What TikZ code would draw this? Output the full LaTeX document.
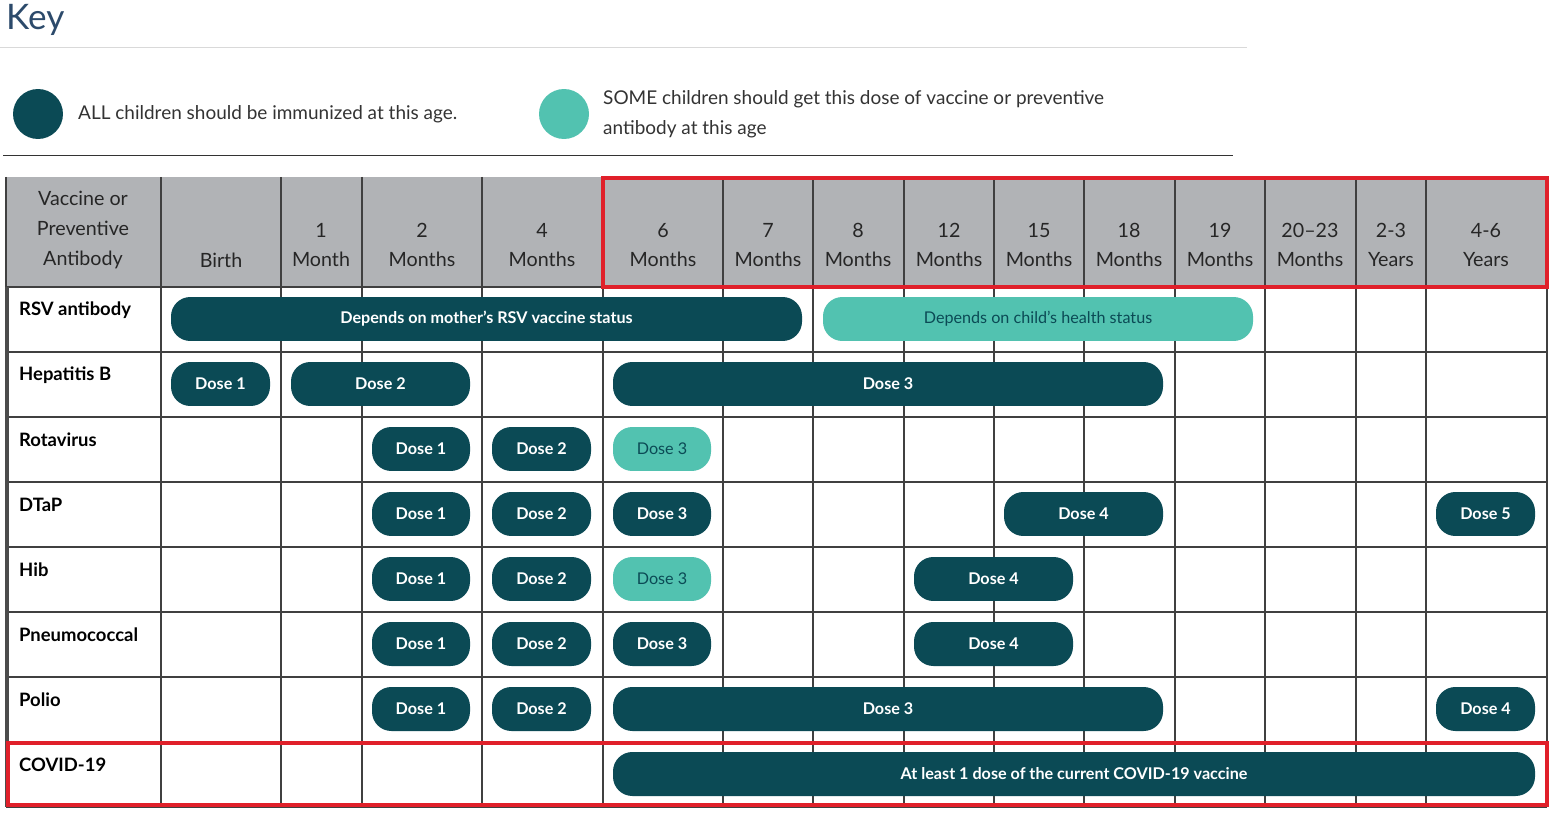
\documentclass[tikz,border=0pt]{standalone}
\usepackage{fontspec}
\setmainfont{Lato}
\definecolor{tealdark}{HTML}{0B4A55}
\definecolor{teallight}{HTML}{52C2B0}
\definecolor{headgray}{HTML}{B1B3B6}
\definecolor{keyblue}{HTML}{2C4A6B}
\definecolor{redbox}{HTML}{E0202A}
\tikzset{
  allpill/.style={fill=tealdark, text=white, font=\fontsize{9.2}{11}\selectfont\bfseries, rounded corners=11pt, inner sep=0pt, minimum height=0.88cm},
  somepill/.style={fill=teallight, text=tealdark, font=\fontsize{9.2}{11}\selectfont, rounded corners=11pt, inner sep=0pt, minimum height=0.88cm},
  headtext/.style={font=\fontsize{11.2}{17}\selectfont, text=black!85, align=center},
  rowtext/.style={font=\fontsize{10.5}{12}\selectfont\bfseries, anchor=west, text=black},
  keytext/.style={font=\fontsize{10.8}{17}\selectfont, text=black!80, anchor=west, align=left},
  gridline/.style={draw=black!75, line width=0.6pt}
}
% pill from x1 to x2 on the row centred at y
\newcommand{\pill}[6]{\node[#5, minimum width={(#3-#2)*0.02cm}] (#1) at ({(#2+#3)/2},#4) {#6};}
\begin{document}
\begin{tikzpicture}[x=0.02cm,y=-0.02cm]
\useasboundingbox (0,0) rectangle (1555,814);
% key
\node[font=\fontsize{20}{22}\selectfont, text=keyblue, anchor=west] (keytitle) at (0,20) {Key};
\draw[black!15] (0,47) -- (1247,47);
\node[circle, fill=tealdark, minimum size=1cm, inner sep=0pt] (keyall) at (38,114) {};
\node[keytext] (keyalltext) at (72,114) {ALL children should be immunized at this age.};
\node[circle, fill=teallight, minimum size=1cm, inner sep=0pt] (keysome) at (564,114) {};
\node[keytext] (keysometext) at (597,114) {SOME children should get this dose of vaccine or preventive\\antibody at this age};
\draw[black!80] (3,155) -- (1233,155);
% header
\fill[headgray] (6,177) rectangle (1547,287);
\foreach \x in {161,281,362,482,603,723,813,904,994,1084,1175,1265,1356,1426}
  \draw[gridline] (\x,177) -- (\x,807);
\foreach \y in {287,352,417,482,547,612,677,742,807}
  \draw[gridline] (6,\y) -- (1547,\y);
\draw[gridline] (6,177) -- (6,807);
\draw[gridline] (1547,287) -- (1547,807);
\draw[black!70, line width=2pt] (7,287) -- (7,807);
\node[headtext] (hvac) at (83,230) {Vaccine or\\Preventive\\Antibody};
\node[headtext] (hbirth) at (221,260) {Birth};
\foreach \cx/\a/\b [count=\i] in {321/1/Month,422/2/Months,542/4/Months,663/6/Months,768/7/Months,858/8/Months,949/12/Months,1039/15/Months,1129/18/Months,1220/19/Months,1310/20--23/Months,1391/2-3/Years,1486/4-6/Years}
  \node[headtext] (h\i) at (\cx,245) {\a\\\b};
% rows
\foreach \lab/\y [count=\i] in {RSV antibody/310,Hepatitis B/375,Rotavirus/440,DTaP/505,Hib/570,Pneumococcal/635,Polio/700,COVID-19/765}
  \node[rowtext] (r\i) at (13,\y) {\lab};
\pill{rsva}{171}{802}{319}{allpill}{Depends on mother’s RSV vaccine status}
\pill{rsvb}{823}{1253}{319}{somepill}{Depends on child’s health status}
\pill{hepa}{171}{270}{384}{allpill}{Dose 1}
\pill{hepb}{291}{470}{384}{allpill}{Dose 2}
\pill{hepc}{613}{1163}{384}{allpill}{Dose 3}
\pill{rota}{372}{470}{449}{allpill}{Dose 1}
\pill{rotb}{492}{591}{449}{allpill}{Dose 2}
\pill{rotc}{613}{711}{449}{somepill}{Dose 3}
\pill{dtpa}{372}{470}{514}{allpill}{Dose 1}
\pill{dtpb}{492}{591}{514}{allpill}{Dose 2}
\pill{dtpc}{613}{711}{514}{allpill}{Dose 3}
\pill{dtpd}{1004}{1163}{514}{allpill}{Dose 4}
\pill{dtpe}{1436}{1535}{514}{allpill}{Dose 5}
\pill{hiba}{372}{470}{579}{allpill}{Dose 1}
\pill{hibb}{492}{591}{579}{allpill}{Dose 2}
\pill{hibc}{613}{711}{579}{somepill}{Dose 3}
\pill{hibd}{914}{1073}{579}{allpill}{Dose 4}
\pill{pnea}{372}{470}{644}{allpill}{Dose 1}
\pill{pneb}{492}{591}{644}{allpill}{Dose 2}
\pill{pnec}{613}{711}{644}{allpill}{Dose 3}
\pill{pned}{914}{1073}{644}{allpill}{Dose 4}
\pill{pola}{372}{470}{709}{allpill}{Dose 1}
\pill{polb}{492}{591}{709}{allpill}{Dose 2}
\pill{polc}{613}{1163}{709}{allpill}{Dose 3}
\pill{pold}{1436}{1535}{709}{allpill}{Dose 4}
\pill{cov}{613}{1535}{774}{allpill}{At least 1 dose of the current COVID-19 vaccine}
% highlights
\draw[redbox, line width=2.2pt] (603,178) rectangle (1547,287);
\draw[redbox, line width=2.2pt] (8,743) rectangle (1547,805);
\end{tikzpicture}
\end{document}
